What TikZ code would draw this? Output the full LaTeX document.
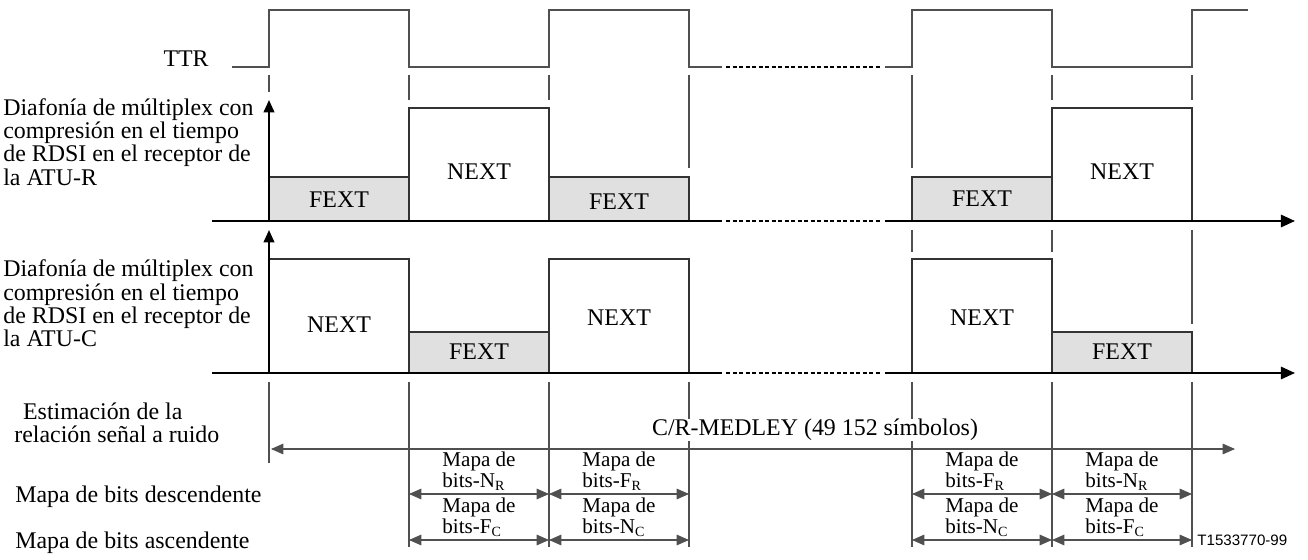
\documentclass[tikz,border=0pt]{standalone}
\usepackage{fontspec}
\setmainfont{Liberation Serif}
\newfontfamily\figsans{Liberation Sans}
\usetikzlibrary{arrows.meta}
\definecolor{fextfill}{HTML}{E0E0E0}
\definecolor{gridline}{HTML}{505050}

\begin{document}
\begin{tikzpicture}[x=0.02cm,y=-0.02cm,font=\fontsize{13.6}{13.3}\selectfont,
  thin line/.style={gridline,line width=0.6pt},
  axis line/.style={black,line width=1.2pt},
  dots line/.style={dash pattern=on 2.5pt off 1.2pt},
  fext box/.style={draw=black!80,line width=0.6pt,fill=fextfill},
  next box/.style={draw=black!80,line width=0.6pt,fill=white},
  span arrow/.style={thin line,{Triangle[length=7pt,width=6pt]}-{Triangle[length=7pt,width=6pt]}},
  map label/.style={font=\fontsize{12}{10.8}\selectfont,align=left,anchor=south,inner sep=1pt}]
\useasboundingbox (0,0) rectangle (1308,560);

\foreach \i/\x in {1/409,2/549,3/689,4/912,5/1052,6/1192} {
  \coordinate (dn\i) at (\x,494);
  \coordinate (up\i) at (\x,540);
}
\coordinate (ttrstart) at (232,67);
\coordinate (ratu0) at (212,221);
\coordinate (ratu1) at (1295,221);
\coordinate (catu0) at (212,373);
\coordinate (catu1) at (1295,373);
\coordinate (snr0) at (271,449);
\coordinate (snr1) at (1235,449);

% TTR
\node[anchor=east,inner sep=0pt] (ttr) at (209,59) {TTR};
\draw[thin line] (ttrstart) -- (269,67) -- (269,10) -- (409,10) -- (409,67) -- (549,67) -- (549,10)
  -- (689,10) -- (689,67) -- (722,67);
\draw[thin line,black,dots line] (726,67) -- (880,67);
\draw[thin line] (885,67) -- (912,67) -- (912,10) -- (1052,10) -- (1052,67) -- (1192,67) -- (1192,10) -- (1248,10);
\foreach \x/\y in {269/92,409/100,549/100,689/168,912/168,1052/100,1192/100}
  \draw[thin line] (\x,75) -- (\x,\y);

% ATU-R
\node[anchor=west,align=left,inner sep=0pt] (ratu) at (3,142)
  {Diafonía de múltiplex con\\compresión en el tiempo\\de RDSI en el receptor de\\la ATU-R};
\draw[fext box] (269,177) rectangle (409,221);
\draw[next box] (409,108) rectangle (549,221);
\draw[fext box] (549,177) rectangle (689,221);
\draw[fext box] (912,177) rectangle (1052,221);
\draw[next box] (1052,108) rectangle (1192,221);
\node (rf1) at (339,200) {FEXT};
\node (rn1) at (479,172) {NEXT};
\node (rf2) at (619,202) {FEXT};
\node (rf3) at (982,199) {FEXT};
\node (rn2) at (1122,172) {NEXT};
\draw[axis line] (ratu0) -- (722,221);
\draw[axis line,line width=1pt,dots line] (726,221) -- (880,221);
\draw[axis line,-{Triangle[length=8pt,width=7pt]}] (885,221) -- (ratu1);
\draw[axis line,-{Triangle[length=7pt,width=6pt]}] (269,221) -- (269,100);

% ATU-C
\foreach \x/\y in {912/252,1052/252,1192/324}
  \draw[thin line] (\x,230) -- (\x,\y);
\node[anchor=west,align=left,inner sep=0pt] (catu) at (3,303.5)
  {Diafonía de múltiplex con\\compresión en el tiempo\\de RDSI en el receptor de\\la ATU-C};
\draw[next box] (269,259) rectangle (409,373);
\draw[fext box] (409,332) rectangle (549,373);
\draw[next box] (549,259) rectangle (689,373);
\draw[next box] (912,259) rectangle (1052,373);
\draw[fext box] (1052,332) rectangle (1192,373);
\node (cn1) at (339,325) {NEXT};
\node (cf1) at (479,352) {FEXT};
\node (cn2) at (619,318) {NEXT};
\node (cn3) at (982,318) {NEXT};
\node (cf2) at (1122,352) {FEXT};
\draw[axis line] (catu0) -- (722,373);
\draw[axis line,line width=1pt,dots line] (726,373) -- (880,373);
\draw[axis line,-{Triangle[length=8pt,width=7pt]}] (885,373) -- (catu1);
\draw[axis line,-{Triangle[length=7pt,width=6pt]}] (269,373) -- (269,230);

% estimacion y mapas de bits
\draw[thin line] (269,382) -- (269,463);
\foreach \x in {409,549,689,912,1052,1192}
  \draw[thin line] (\x,382) -- (\x,547);
\node[anchor=west,align=left,inner sep=0pt] (snr) at (14,422.5)
  {\hspace*{5pt}Estimación de la\\relación señal a ruido};
\node[fill=white,inner sep=0pt] (medley) at (815,430) {C/R-MEDLEY (49 152 símbolos)};
\draw[span arrow] (snr0) -- (snr1);

\node[anchor=west,inner sep=0pt] (down) at (15,497) {Mapa de bits descendente};
\node[anchor=west,inner sep=0pt] (upst) at (15,543) {Mapa de bits ascendente};
\foreach \a/\b in {1/2,2/3,4/5,5/6} {
  \draw[span arrow] (dn\a) -- (dn\b);
  \draw[span arrow] (up\a) -- (up\b);
}
\node[map label] (dl1) at (479,493) {Mapa de\\bits-N\textsubscript{R}};
\node[map label] (dl2) at (619,493) {Mapa de\\bits-F\textsubscript{R}};
\node[map label] (dl3) at (982,493) {Mapa de\\bits-F\textsubscript{R}};
\node[map label] (dl4) at (1122,493) {Mapa de\\bits-N\textsubscript{R}};
\node[map label] (ul1) at (479,539) {Mapa de\\bits-F\textsubscript{C}};
\node[map label] (ul2) at (619,539) {Mapa de\\bits-N\textsubscript{C}};
\node[map label] (ul3) at (982,539) {Mapa de\\bits-N\textsubscript{C}};
\node[map label] (ul4) at (1122,539) {Mapa de\\bits-F\textsubscript{C}};
\node[anchor=west,inner sep=0pt,font=\figsans\fontsize{8.6}{10}\selectfont] (tag) at (1197,540) {T1533770-99};
\end{tikzpicture}
\end{document}
